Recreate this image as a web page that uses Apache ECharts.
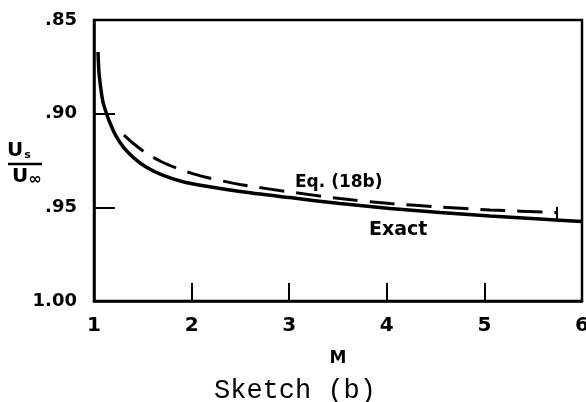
<!DOCTYPE html>
<html>
<head>
<meta charset="utf-8">
<script src="https://cdn.jsdelivr.net/npm/echarts@6/dist/echarts.min.js"></script>
<style>html,body{margin:0;padding:0;background:#fff}#c{width:586px;height:402px}</style>
</head>
<body>
<div id="c"></div>
<script>
// Exact solution (solid)
var exactM = [1.041, 1.051, 1.072, 1.092, 1.123, 1.164, 1.225, 1.307, 1.410, 1.533, 1.697, 1.902, 2.137, 2.496, 3.008, 3.520, 4.033, 4.545, 5.057, 5.570, 6.0];
var exactU = [0.8671, 0.8778, 0.8874, 0.8938, 0.8991, 0.9050, 0.9119, 0.9183, 0.9237, 0.9285, 0.9327, 0.9362, 0.9386, 0.9415, 0.9448, 0.9480, 0.9506, 0.9528, 0.9546, 0.9562, 0.9576];
// Eq. (18b) (dashed)
var eqM = [1.307, 1.410, 1.533, 1.697, 1.902, 2.137, 2.496, 3.008, 3.520, 4.033, 4.545, 5.057, 5.744];
var eqU = [0.9114, 0.9162, 0.9210, 0.9258, 0.9301, 0.9338, 0.9378, 0.9418, 0.9453, 0.9480, 0.9498, 0.9514, 0.9528];
// end bar of dashed curve
var endBarM = [5.744, 5.744];
var endBarU = [0.9498, 0.9562];
// axes
var xTicks = [1, 2, 3, 4, 5, 6];
var yTickLabels = {"0.85": ".85", "0.9": ".90", "0.95": ".95", "1": "1.00"};

function zip(a, b) { return a.map(function (v, i) { return [v, b[i]]; }); }

var chart = echarts.init(document.getElementById('c'), null, {renderer: 'canvas'});
var lblFont = 'DejaVu Sans';
chart.setOption({
  animation: false,
  backgroundColor: '#fff',
  grid: {left: 94, right: 4, top: 20, bottom: 101, show: true, borderColor: '#000', borderWidth: 2.5, outerBoundsMode: 'none', containLabel: false},
  xAxis: {
    type: 'value', min: 1, max: 6, interval: 1,
    name: 'M', nameLocation: 'middle', nameGap: 49,
    nameTextStyle: {fontFamily: lblFont, fontWeight: 'bold', fontSize: 17, color: '#000'},
    axisLine: {lineStyle: {color: '#000', width: 2.5}},
    axisTick: {inside: true, length: 18, lineStyle: {color: '#000', width: 2}},
    axisLabel: {margin: 15, fontFamily: lblFont, fontWeight: 'bold', fontSize: 20, color: '#000',
      formatter: function (v) { return String(Math.round(v)); }},
    splitLine: {show: false}
  },
  yAxis: {
    type: 'value', inverse: true, min: 0.85, max: 1.0, interval: 0.05,
    axisLine: {lineStyle: {color: '#000', width: 2.5}},
    axisTick: {inside: true, length: 21, lineStyle: {color: '#000', width: 2}},
    axisLabel: {margin: 17, fontFamily: lblFont, fontWeight: 'bold', fontSize: 18, color: '#000',
      formatter: function (v) { var k = String(Math.round(v * 100) / 100); return yTickLabels[k] || k; }},
    splitLine: {show: false}
  },
  series: [
    {type: 'line', data: zip(exactM, exactU), smooth: 0.25, showSymbol: false,
      lineStyle: {color: '#000', width: 3.5}},
    {type: 'line', data: zip(eqM, eqU), smooth: 0.25, showSymbol: false,
      lineStyle: {color: '#000', width: 3, type: [25, 12]}},
    {type: 'line', data: zip(endBarM, endBarU), showSymbol: false,
      lineStyle: {color: '#000', width: 2}}
  ],
  graphic: [
    {type: 'text', left: 295, top: 174, style: {text: 'Eq. (18b)', font: 'bold 17px "DejaVu Sans"', fill: '#000'}},
    {type: 'text', left: 369, top: 221, style: {text: 'Exact', font: 'bold 19px "DejaVu Sans"', fill: '#000'}},
    {type: 'text', left: 7, top: 141, style: {
      text: '{u|U}{s|s}', rich: {u: {font: 'bold 20px "DejaVu Sans"', fill: '#000'}, s: {font: 'bold 11px "DejaVu Sans"', fill: '#000', verticalAlign: 'bottom', padding: [6, 0, 0, 1]}}}},
    {type: 'line', shape: {x1: 8, y1: 164, x2: 42, y2: 164}, style: {stroke: '#000', lineWidth: 2.5}},
    {type: 'text', left: 12, top: 167, style: {
      text: '{u|U}{s|∞}', rich: {u: {font: 'bold 20px "DejaVu Sans"', fill: '#000'}, s: {font: 'bold 16px "DejaVu Sans"', fill: '#000', verticalAlign: 'bottom', padding: [6, 0, 0, 0]}}}},
    {type: 'text', left: 214, top: 377, style: {text: 'Sketch (b)', font: '27px "Liberation Mono"', fill: '#000'}}
  ]
});
</script>
</body>
</html>
